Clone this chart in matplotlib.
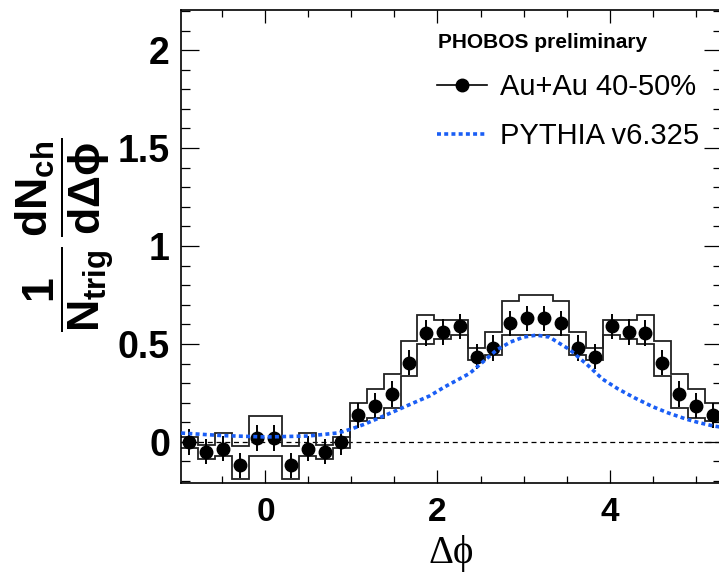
import numpy as np
import matplotlib
matplotlib.use("Agg")
import matplotlib.pyplot as plt
from matplotlib.lines import Line2D
from matplotlib.ticker import MultipleLocator, FormatStrFormatter

# 32 bins of width pi/16, from -5pi/16 to 27pi/16
bin_edges = np.linspace(-5 * np.pi / 16, 27 * np.pi / 16, 33)
bin_centers = 0.5 * (bin_edges[:-1] + bin_edges[1:])

yields = [0.0, -0.05, -0.035, -0.12, 0.02, 0.02, -0.12, -0.035, -0.05, 0.0,
          0.135, 0.185, 0.245, 0.405, 0.555, 0.56, 0.59, 0.435, 0.48, 0.605, 0.63,
          0.63, 0.605, 0.48, 0.435, 0.59, 0.56, 0.555, 0.405, 0.245, 0.185, 0.135]
stat_err = [0.065] * 32
sys_hi = [0.026, -0.018, 0.046, -0.019, 0.134, 0.134, -0.019, 0.046, -0.018, 0.026,
          0.199, 0.272, 0.348, 0.513, 0.649, 0.62, 0.62, 0.48, 0.559, 0.717, 0.752,
          0.752, 0.717, 0.559, 0.48, 0.62, 0.62, 0.649, 0.513, 0.348, 0.272, 0.199]
sys_lo = [-0.03, -0.09, -0.073, -0.192, -0.07, -0.07, -0.192, -0.073, -0.09, -0.03,
          0.105, 0.122, 0.173, 0.338, 0.5, 0.525, 0.545, 0.416, 0.445, 0.547, 0.547,
          0.547, 0.547, 0.445, 0.416, 0.545, 0.525, 0.5, 0.338, 0.173, 0.122, 0.105]

pythia_x = [-0.98, -0.5, 0.0, 0.5, 0.85, 1.0, 1.15, 1.31, 1.52, 1.70, 1.91, 2.08,
            2.375, 2.69, 2.85, 3.0, 3.15, 3.3, 3.54, 3.75, 3.92, 4.1, 4.29, 4.5,
            4.68, 4.9, 5.05, 5.2, 5.3]
pythia_y = [0.045, 0.032, 0.025, 0.03, 0.046, 0.066, 0.09, 0.12, 0.16, 0.195, 0.235,
            0.28, 0.35, 0.47, 0.51, 0.535, 0.545, 0.535, 0.47, 0.39, 0.32, 0.27,
            0.225, 0.18, 0.148, 0.115, 0.097, 0.082, 0.075]

plt.rcParams["font.family"] = ["Liberation Sans", "DejaVu Sans"]
plt.rcParams["mathtext.fontset"] = "custom"
plt.rcParams["mathtext.rm"] = "Liberation Sans:bold"
plt.rcParams["mathtext.it"] = "Liberation Sans:bold"
plt.rcParams["mathtext.bf"] = "Liberation Sans:bold"

fig = plt.figure(figsize=(7.19, 5.72), dpi=100)
ax = fig.add_axes([181 / 719, 89 / 572, 540.5 / 719, 473 / 572])

ax.axhline(0, color="black", lw=0.9, ls=(0, (4, 3)), zorder=1)
ax.stairs(sys_hi, bin_edges, baseline=None, color="#222222", lw=1.3, zorder=2)
ax.stairs(sys_lo, bin_edges, baseline=None, color="#222222", lw=1.3, zorder=2)
ax.errorbar(bin_centers, yields, yerr=stat_err, fmt="o", color="black",
            ms=9, elinewidth=1.4, capsize=0, zorder=3)
ax.plot(pythia_x, pythia_y, color="#1a5ef5", lw=2.6, ls=(0, (1.1, 0.9)), zorder=4)

ax.set_xlim(bin_edges[0], bin_edges[-1])
ax.set_ylim(-0.21, 2.205)

ax.xaxis.set_major_locator(MultipleLocator(2))
ax.xaxis.set_minor_locator(MultipleLocator(0.5))
ax.yaxis.set_major_locator(MultipleLocator(0.5))
ax.yaxis.set_minor_locator(MultipleLocator(0.1))
ax.yaxis.set_major_formatter(FormatStrFormatter("%g"))

ax.tick_params(which="both", direction="in", top=True, right=True, width=0.9)
ax.tick_params(axis="x", which="major", length=9.4, labelsize=24, pad=10)
ax.tick_params(axis="x", which="minor", length=5)
ax.tick_params(axis="y", which="major", length=13, labelsize=27, pad=8)
ax.tick_params(axis="y", which="minor", length=6.5)
for lab in ax.get_xticklabels() + ax.get_yticklabels():
    lab.set_fontweight("bold")
for sp in ax.spines.values():
    sp.set_linewidth(1.2)

ax.set_xlabel("Δϕ", family=["Liberation Serif", "DejaVu Serif"], fontsize=28)
ax.xaxis.set_label_coords(0.5, -0.11)
ax.set_ylabel(r"$\dfrac{1}{N_{trig}}\,\dfrac{dN_{ch}}{d\Delta\phi}$", fontsize=32)
ax.yaxis.set_label_coords(-0.12, 0.525)

fig.text(438 / 719, 1 - 42 / 572, "PHOBOS preliminary", fontsize=15,
         fontweight="bold", va="center", ha="left")
handles = [
    Line2D([], [], color="black", lw=1.2, marker="o", ms=9),
    Line2D([], [], color="#1a5ef5", lw=2.6, ls=(0, (1.1, 0.9))),
]
ax.legend(handles, ["Au+Au 40-50%", "PYTHIA v6.325"], loc="upper left",
          bbox_to_anchor=(437 / 719, 1 - 73 / 572), bbox_transform=fig.transFigure,
          frameon=False, fontsize=21, borderpad=0, borderaxespad=0,
          handlelength=1.7, handletextpad=0.45, labelspacing=0.72)

fig.savefig("out.png", dpi=100)
